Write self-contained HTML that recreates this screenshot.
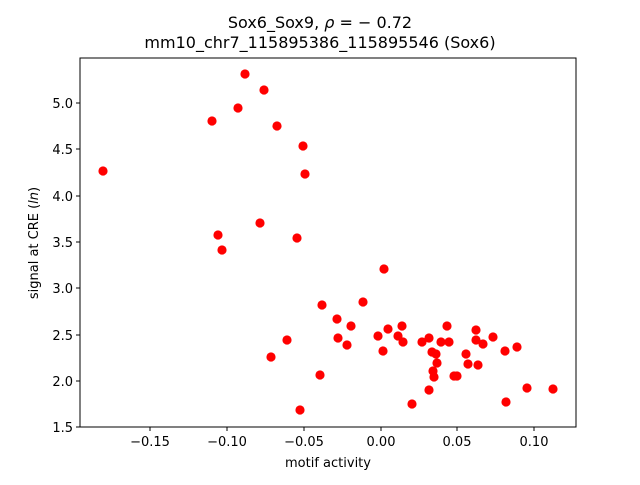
<!DOCTYPE html>
<html><head><meta charset="utf-8"><style>
body{margin:0;background:#fff}
svg text{font-family:"DejaVu Sans","Liberation Sans",sans-serif;fill:#000}
</style></head><body>
<svg width="640" height="480" xmlns="http://www.w3.org/2000/svg">
<rect width="640" height="480" fill="#fff"/>
<text x="320" y="28" font-size="16" text-anchor="middle">Sox6_Sox9, <tspan font-style="italic">ρ</tspan> = − 0.72</text>
<text x="320" y="48" font-size="16" text-anchor="middle">mm10_chr7_115895386_115895546 (Sox6)</text>
<g fill="#f00">
<circle cx="245" cy="74" r="4.6"/><circle cx="264" cy="90" r="4.6"/><circle cx="238" cy="108" r="4.6"/>
<circle cx="212" cy="121" r="4.6"/><circle cx="277" cy="126" r="4.6"/><circle cx="303" cy="146" r="4.6"/>
<circle cx="103" cy="171" r="4.6"/><circle cx="305" cy="174" r="4.6"/><circle cx="260" cy="223" r="4.6"/>
<circle cx="218" cy="235" r="4.6"/><circle cx="297" cy="238" r="4.6"/><circle cx="222" cy="250" r="4.6"/>
<circle cx="271" cy="357" r="4.6"/>
<circle cx="384" cy="269" r="4.6"/><circle cx="322" cy="305" r="4.6"/><circle cx="363" cy="302" r="4.6"/>
<circle cx="337" cy="319" r="4.6"/><circle cx="351" cy="326" r="4.6"/><circle cx="287" cy="340" r="4.6"/>
<circle cx="338" cy="338" r="4.6"/><circle cx="347" cy="345" r="4.6"/><circle cx="320" cy="375" r="4.6"/>
<circle cx="300" cy="410" r="4.6"/><circle cx="378" cy="336" r="4.6"/><circle cx="388" cy="329" r="4.6"/>
<circle cx="383" cy="351" r="4.6"/><circle cx="402" cy="326" r="4.6"/><circle cx="398" cy="336" r="4.6"/>
<circle cx="403" cy="342" r="4.6"/><circle cx="412" cy="404" r="4.6"/><circle cx="422" cy="342" r="4.6"/>
<circle cx="429" cy="338" r="4.6"/><circle cx="432" cy="352" r="4.6"/><circle cx="436" cy="354" r="4.6"/>
<circle cx="437" cy="363" r="4.6"/><circle cx="433" cy="371" r="4.6"/><circle cx="434" cy="377" r="4.6"/>
<circle cx="429" cy="390" r="4.6"/><circle cx="447" cy="326" r="4.6"/><circle cx="441" cy="342" r="4.6"/>
<circle cx="449" cy="342" r="4.6"/><circle cx="454" cy="376" r="4.6"/><circle cx="457" cy="376" r="4.6"/>
<circle cx="466" cy="354" r="4.6"/><circle cx="468" cy="364" r="4.6"/><circle cx="478" cy="365" r="4.6"/>
<circle cx="476" cy="330" r="4.6"/><circle cx="476" cy="340" r="4.6"/><circle cx="483" cy="344" r="4.6"/>
<circle cx="493" cy="337" r="4.6"/><circle cx="505" cy="351" r="4.6"/><circle cx="517" cy="347" r="4.6"/>
<circle cx="506" cy="402" r="4.6"/><circle cx="527" cy="388" r="4.6"/><circle cx="553" cy="389" r="4.6"/>
</g>
<rect x="80" y="58" width="496" height="369" fill="none" stroke="#000" stroke-width="1"/>
<g stroke="#000" stroke-width="1">
<line x1="150" y1="427" x2="150" y2="431"/><line x1="227" y1="427" x2="227" y2="431"/>
<line x1="304" y1="427" x2="304" y2="431"/><line x1="381" y1="427" x2="381" y2="431"/>
<line x1="457" y1="427" x2="457" y2="431"/><line x1="534" y1="427" x2="534" y2="431"/>
<line x1="76" y1="427" x2="80" y2="427"/><line x1="76" y1="381" x2="80" y2="381"/>
<line x1="76" y1="335" x2="80" y2="335"/><line x1="76" y1="288" x2="80" y2="288"/>
<line x1="76" y1="242" x2="80" y2="242"/><line x1="76" y1="196" x2="80" y2="196"/>
<line x1="76" y1="149" x2="80" y2="149"/><line x1="76" y1="103" x2="80" y2="103"/>
</g>
<g font-size="13" text-anchor="middle">
<text x="150" y="446">−0.15</text><text x="227" y="446">−0.10</text><text x="304" y="446">−0.05</text>
<text x="381" y="446">0.00</text><text x="457" y="446">0.05</text><text x="534" y="446">0.10</text>
</g>
<g font-size="13" text-anchor="end">
<text x="73" y="432">1.5</text><text x="73" y="386">2.0</text><text x="73" y="340">2.5</text>
<text x="73" y="293">3.0</text><text x="73" y="247">3.5</text><text x="73" y="201">4.0</text>
<text x="73" y="154">4.5</text><text x="73" y="108">5.0</text>
</g>
<text x="328" y="467" font-size="13" text-anchor="middle">motif activity</text>
<text transform="translate(38,243) rotate(-90)" font-size="13" text-anchor="middle">signal at CRE (<tspan font-style="italic">ln</tspan>)</text>
</svg>
</body></html>
